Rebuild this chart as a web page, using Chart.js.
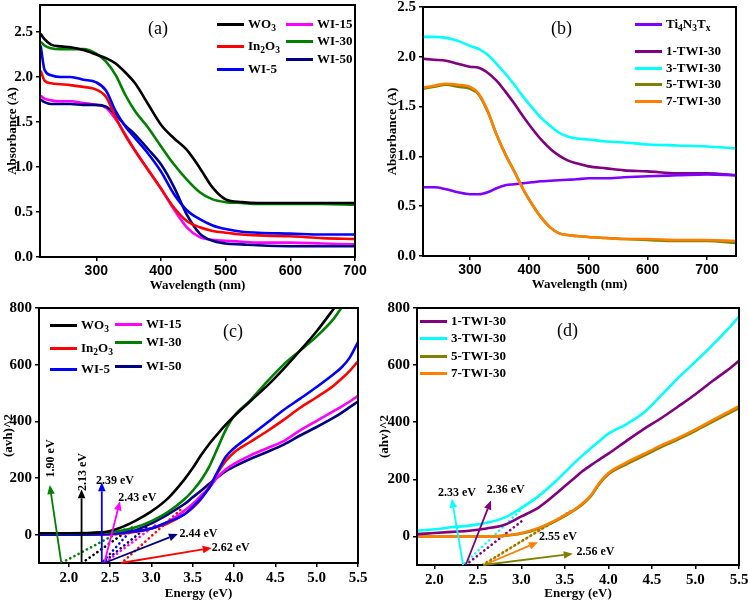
<!DOCTYPE html>
<html><head><meta charset="utf-8">
<script src="https://cdn.jsdelivr.net/npm/chart.js@4"></script>
<style>
body{margin:0;background:#fff;}
#wrap{position:relative;width:748px;height:602px;overflow:hidden;font-family:"Liberation Serif",serif;}
canvas{position:absolute;}
.lg{position:absolute;height:0;}
.lg i{position:absolute;left:0;top:-1.5px;width:27px;height:3px;}
.lg span{position:absolute;left:31px;top:-8.5px;white-space:nowrap;font:bold 13px "Liberation Serif";line-height:16px;color:#000;}
.lg sub{font-size:9.5px;vertical-align:-3px;line-height:0;}
.pl{position:absolute;font:18px "Liberation Serif";line-height:18px;color:#000;}
</style></head>
<body><div id="wrap">
<canvas id="ca" width="374" height="300" style="left:0;top:0"></canvas>
<canvas id="cb" width="374" height="300" style="left:374px;top:0"></canvas>
<canvas id="cc" width="374" height="302" style="left:0;top:300px"></canvas>
<canvas id="cd" width="374" height="302" style="left:374px;top:300px"></canvas>
<div class="pl" style="left:148px;top:19px">(a)</div>
<div class="pl" style="left:551px;top:19px">(b)</div>
<div class="pl" style="left:223px;top:322px">(c)</div>
<div class="pl" style="left:557px;top:321px">(d)</div>
</div>
<script>
// ---------- Panel (a): absorbance vs wavelength ----------
const A_WL    = [214,220,230,245,260,280,300,315,330,345,360,380,400,420,440,460,480,500,525,550,600,650,700];
const A_WO3   = [2.48,2.42,2.36,2.34,2.33,2.30,2.25,2.21,2.15,2.05,1.93,1.70,1.47,1.32,1.19,0.99,0.77,0.64,0.61,0.60,0.60,0.60,0.60];
const A_IN2O3 = [2.07,1.96,1.93,1.92,1.91,1.89,1.86,1.78,1.55,1.35,1.18,0.97,0.76,0.55,0.40,0.33,0.29,0.27,0.25,0.24,0.23,0.21,0.20];
const A_WI5   = [2.35,2.08,2.02,2.00,2.00,1.97,1.94,1.85,1.62,1.45,1.32,1.15,0.95,0.70,0.52,0.42,0.35,0.31,0.28,0.27,0.26,0.25,0.25];
const A_WI15  = [1.79,1.76,1.74,1.73,1.73,1.71,1.69,1.66,1.53,1.36,1.18,0.97,0.76,0.53,0.33,0.22,0.19,0.18,0.17,0.16,0.16,0.15,0.14];
const A_WI30  = [2.39,2.35,2.32,2.31,2.31,2.31,2.26,2.17,2.02,1.80,1.62,1.44,1.23,1.03,0.86,0.72,0.64,0.61,0.60,0.59,0.59,0.59,0.58];
const A_WI50  = [1.75,1.72,1.70,1.70,1.70,1.69,1.69,1.67,1.58,1.46,1.36,1.20,1.03,0.78,0.47,0.26,0.18,0.15,0.14,0.13,0.12,0.12,0.12];
const A_XTICKS = [300,400,500,600,700];
const A_YTICKS = [0,0.5,1.0,1.5,2.0,2.5];

// ---------- Panel (b) ----------
const B_WL   = [221,240,260,280,300,315,330,345,360,375,390,405,420,435,450,465,480,500,530,560,600,650,700,750];
const B_TI   = [0.69,0.69,0.67,0.64,0.62,0.62,0.64,0.68,0.71,0.72,0.73,0.74,0.75,0.755,0.76,0.765,0.77,0.78,0.78,0.79,0.80,0.81,0.82,0.81];
const B_1TWI = [1.98,1.97,1.96,1.93,1.90,1.89,1.84,1.76,1.65,1.53,1.40,1.28,1.17,1.08,1.01,0.96,0.93,0.90,0.88,0.86,0.85,0.83,0.83,0.81];
const B_3TWI = [2.20,2.20,2.19,2.16,2.11,2.08,2.02,1.93,1.83,1.72,1.60,1.49,1.39,1.31,1.24,1.20,1.18,1.17,1.15,1.14,1.12,1.11,1.10,1.08];
const B_5TWI = [1.68,1.70,1.72,1.70,1.68,1.62,1.45,1.22,1.02,0.85,0.67,0.52,0.39,0.29,0.23,0.21,0.20,0.19,0.18,0.17,0.16,0.15,0.15,0.13];
const B_7TWI = [1.69,1.71,1.73,1.72,1.70,1.63,1.46,1.22,1.02,0.85,0.67,0.52,0.39,0.29,0.23,0.21,0.20,0.19,0.18,0.17,0.17,0.16,0.16,0.15];
const B_XTICKS = [300,400,500,600,700];
const B_YTICKS = [0,0.5,1.0,1.5,2.0,2.5];

// ---------- Panel (c): Tauc plots ----------
const C_E     = [1.64,2.0,2.4,2.6,2.8,3.0,3.2,3.4,3.5,3.6,3.7,3.8,3.9,4.0,4.2,4.4,4.6,4.8,5.0,5.2,5.3,5.4,5.5];
const C_WO3   = [5,5,8,22,48,82,128,195,235,280,320,355,388,418,472,525,585,650,718,795,835,870,905];
const C_IN2O3 = [0,0,1,3,10,22,40,72,95,125,170,218,260,290,328,365,405,448,485,525,550,578,612];
const C_WI5   = [0,0,2,5,12,22,45,72,98,128,165,222,275,305,350,395,440,480,521,565,590,625,680];
const C_WI15  = [0,0,1,3,10,22,45,85,108,138,165,203,230,250,280,305,330,368,402,435,452,470,490];
const C_WI30  = [5,5,7,12,25,48,80,125,155,192,240,305,370,418,475,540,600,650,700,760,800,830,860];
const C_WI50  = [0,0,1,5,15,40,72,108,132,155,180,202,224,240,268,292,318,350,380,412,430,450,470];
const C_XTICKS = [2.0,2.5,3.0,3.5,4.0,4.5,5.0,5.5];
const C_YTICKS = [0,200,400,600,800];
// tangent (dotted) lines: [E, value] start and end
const C_FIT_START = [[2.16,-100],[2.64,-100],[2.40,-100],[2.43,-100],[1.91,-100],[2.41,-100]];
const C_FIT_END   = [[2.78,28],[3.38,95],[2.80,30],[3.08,40],[2.72,25],[2.96,30]];
// band-gap arrows and labels
const C_GAP_TEXT  = ['1.90 eV','2.13 eV','2.39 eV','2.43 eV','2.44 eV','2.62 eV'];
const C_ARR_TAIL  = [[1.91,-100],[2.155,-100],[2.40,-100],[2.43,-100],[2.43,-100],[2.63,-100]];
const C_ARR_HEAD  = [[1.77,175],[2.155,160],[2.40,185],[2.62,118],[3.32,2],[3.73,-47]];
const C_LABEL_AT  = [[1.79,269],[2.17,221],[2.56,191],[2.83,129],[3.57,2],[3.96,-47]];
const C_LABEL_ROT = [true,true,false,false,false,false];

// ---------- Panel (d) ----------
const D_E    = [1.8,2.0,2.2,2.4,2.6,2.8,3.0,3.2,3.4,3.5,3.6,3.7,3.8,3.9,4.0,4.2,4.4,4.6,4.8,5.0,5.2,5.4,5.5];
const D_1TWI = [8,12,16,20,28,40,70,102,150,177,202,228,250,270,290,333,375,413,455,498,545,590,615];
const D_3TWI = [20,25,32,38,48,65,100,142,195,225,255,283,310,335,360,392,432,492,555,612,672,735,770];
const D_5TWI = [0,0,0,0,0,2,10,28,55,72,90,112,142,186,218,252,282,312,340,370,402,434,450];
const D_7TWI = [0,0,0,0,0,3,12,30,58,75,92,115,145,190,222,258,288,318,345,375,408,440,456];
const D_XTICKS = [2.0,2.5,3.0,3.5,4.0,4.5,5.0,5.5];
const D_YTICKS = [0,200,400,600,800];
const D_FIT_START = [[2.36,-100],[2.33,-100],[2.55,-100],[2.56,-100]];
const D_FIT_END   = [[3.03,60],[3.0,95],[3.55,85],[3.6,95]];
const D_GAP_TEXT  = ['2.33 eV','2.36 eV','2.55 eV','2.56 eV'];
const D_ARR_TAIL  = [[2.33,-100],[2.36,-100],[2.57,-100],[2.56,-100]];
const D_ARR_HEAD  = [[2.20,132],[2.65,126],[3.19,-20],[3.59,-61]];
const D_LABEL_AT  = [[2.26,151],[2.82,162],[3.42,-2],[3.85,-55]];

// ---------- styling ----------
const COL = {wo3:'#000000', in2o3:'#ff0000', wi5:'#0000ff', wi15:'#ff00ff', wi30:'#008000', wi50:'#000080',
             ti:'#8000ff', t1:'#800080', t3:'#00ffff', t5:'#808000', t7:'#ff8000'};
const SERIF = '"Liberation Serif", serif';
const SANS = '"Liberation Sans", Arial, sans-serif';

function pts(xs, ys){ return xs.map((x,i)=>({x:x, y:ys[i]})); }
function curve(label, xs, ys, color){
  return {label:label, data:pts(xs,ys), borderColor:color, backgroundColor:color, borderWidth:2.6,
          pointRadius:0, fill:false, cubicInterpolationMode:'monotone'};
}
function dotted(p0, p1, color, off){
  return {label:'', data:[{x:p0[0],y:p0[1]},{x:p1[0],y:p1[1]}], borderColor:color, borderWidth:2.6,
          borderDash:[0.1,4.6], borderDashOffset:off||0, borderCapStyle:'round', pointRadius:0, tension:0, fill:false};
}
function drawArrow(ctx,x1,y1,x2,y2,color){
  const ang=Math.atan2(y2-y1,x2-x1), L=9, W=3.8;
  const bx=x2-L*Math.cos(ang), by=y2-L*Math.sin(ang);
  ctx.save(); ctx.strokeStyle=color; ctx.fillStyle=color; ctx.lineWidth=1.8;
  ctx.beginPath(); ctx.moveTo(x1,y1); ctx.lineTo(bx,by); ctx.stroke();
  ctx.beginPath(); ctx.moveTo(x2,y2);
  ctx.lineTo(bx+W*Math.sin(ang), by-W*Math.cos(ang));
  ctx.lineTo(bx-W*Math.sin(ang), by+W*Math.cos(ang));
  ctx.closePath(); ctx.fill(); ctx.restore();
}
const framePlugin = {
  id:'frame',
  afterDatasetsDraw(chart){
    const {ctx, chartArea:a} = chart;
    ctx.save(); ctx.strokeStyle='#000'; ctx.lineWidth=2;
    ctx.strokeRect(a.left, a.top, a.right-a.left, a.bottom-a.top);
    ctx.restore();
  }
};
function annotate(arrows){
  return {
    id:'arrows',
    afterDatasetsDraw(chart){
      const xs=chart.scales.x, ys=chart.scales.y, ctx=chart.ctx;
      arrows.forEach(ar=>{
        drawArrow(ctx, xs.getPixelForValue(ar.tail[0]), ys.getPixelForValue(ar.tail[1]),
                       xs.getPixelForValue(ar.head[0]), ys.getPixelForValue(ar.head[1]), ar.color);
      });
      arrows.forEach(ar=>{
        const lx=xs.getPixelForValue(ar.at[0]), ly=ys.getPixelForValue(ar.at[1]);
        ctx.save(); ctx.translate(lx,ly); if(ar.rot) ctx.rotate(-Math.PI/2);
        ctx.font='bold 12px '+SERIF; ctx.fillStyle='#000'; ctx.textAlign='center'; ctx.textBaseline='middle';
        ctx.fillText(ar.text,0,0); ctx.restore();
      });
    }
  };
}
function makeChart(id, cfg){
  const c=document.getElementById(id);
  const W=c.width, H=c.height, a=cfg.area;
  return new Chart(c,{
    type:'line',
    data:{datasets:cfg.datasets},
    options:{
      responsive:false, animation:false, devicePixelRatio:1,
      layout:{padding:{left:0, top:a.top, right:W-a.right, bottom:0}},
      plugins:{legend:{display:false}, tooltip:{enabled:false}},
      scales:{
        x:{type:'linear', min:cfg.xmin, max:cfg.xmax,
           afterBuildTicks(s){ s.ticks = cfg.xTicks.map(v=>({value:v})); },
           afterFit(s){ s.height = H - a.bottom; s.paddingLeft=0; s.paddingRight=0; },
           ticks:{color:'#000', padding:2, maxRotation:0, autoSkip:false, font:{family:cfg.xFont, weight:'bold', size:cfg.xFontSize},
                  callback:cfg.xFmt},
           grid:{drawOnChartArea:false, drawTicks:true, tickLength:4, color:'#000', lineWidth:1.5},
           border:{display:true, color:'#000', width:2},
           title:{display:true, text:cfg.xTitle, color:'#000', font:{family:SERIF, weight:'bold', size:13},
                  padding:{top:0, bottom:cfg.xTitlePad}}},
        y:{type:'linear', min:cfg.ymin, max:cfg.ymax,
           afterBuildTicks(s){ s.ticks = cfg.yTicks.map(v=>({value:v})); },
           afterFit(s){ s.width = a.left; s.paddingTop=0; s.paddingBottom=0; },
           ticks:{color:'#000', padding:3, autoSkip:false, font:{family:SERIF, weight:'bold', size:15},
                  callback:cfg.yFmt},
           grid:{drawOnChartArea:false, drawTicks:true, tickLength:4, color:'#000', lineWidth:1.5},
           border:{display:true, color:'#000', width:2},
           title:{display:true, text:cfg.yTitle, color:'#000', font:{family:SERIF, weight:'bold', size:13},
                  padding:{top:cfg.yTitlePad, bottom:0}}}
      }
    },
    plugins:[framePlugin, annotate(cfg.arrows||[])]
  });
}
const f1 = v => Number(v).toFixed(1);
const f0 = v => String(Math.round(v));

// Chart.js draws dataset 0 on top, so topmost series come first.
// (a)
makeChart('ca',{
  area:{left:40,right:355,top:5,bottom:257}, xmin:213, xmax:700, ymin:0, ymax:2.8,
  xTicks:A_XTICKS, yTicks:A_YTICKS, xFmt:f0, yFmt:f1, xFont:SANS, xFontSize:14,
  xTitle:'Wavelength (nm)', yTitle:'Absorbance (A)', xTitlePad:7, yTitlePad:5,
  datasets:[curve('WO3',A_WL,A_WO3,COL.wo3), curve('WI-30',A_WL,A_WI30,COL.wi30),
            curve('WI-5',A_WL,A_WI5,COL.wi5), curve('In2O3',A_WL,A_IN2O3,COL.in2o3),
            curve('WI-50',A_WL,A_WI50,COL.wi50), curve('WI-15',A_WL,A_WI15,COL.wi15)]
});
// (b)
makeChart('cb',{
  area:{left:49,right:362,top:7,bottom:256}, xmin:221, xmax:749, ymin:0, ymax:2.5,
  xTicks:B_XTICKS, yTicks:B_YTICKS, xFmt:f0, yFmt:f1, xFont:SANS, xFontSize:14,
  xTitle:'Wavelength (nm)', yTitle:'Absorbance (A)', xTitlePad:8, yTitlePad:11,
  datasets:[curve('7-TWI-30',B_WL,B_7TWI,COL.t7), curve('5-TWI-30',B_WL,B_5TWI,COL.t5),
            curve('Ti4N3Tx',B_WL,B_TI,COL.ti), curve('1-TWI-30',B_WL,B_1TWI,COL.t1),
            curve('3-TWI-30',B_WL,B_3TWI,COL.t3)]
});
// (c)
const C_COLS = [COL.wo3, COL.in2o3, COL.wi5, COL.wi15, COL.wi30, COL.wi50];
const C_ARR_COLS = [COL.wi30, COL.wo3, COL.wi5, COL.wi15, COL.wi50, COL.in2o3];
makeChart('cc',{
  area:{left:39,right:358,top:8,bottom:263}, xmin:1.64, xmax:5.5, ymin:-100, ymax:800,
  xTicks:C_XTICKS, yTicks:C_YTICKS, xFmt:f1, yFmt:f0, xFont:SERIF, xFontSize:15,
  xTitle:'Energy (eV)', yTitle:'(avh)^2', xTitlePad:1, yTitlePad:1,
  datasets:[
    curve('WO3',C_E,C_WO3,COL.wo3), curve('WI-30',C_E,C_WI30,COL.wi30),
    curve('WI-5',C_E,C_WI5,COL.wi5), curve('In2O3',C_E,C_IN2O3,COL.in2o3),
    curve('WI-15',C_E,C_WI15,COL.wi15), curve('WI-50',C_E,C_WI50,COL.wi50),
    ...C_FIT_START.map((p,i)=>dotted(p, C_FIT_END[i], C_COLS[i], i))],
  arrows:C_GAP_TEXT.map((t,i)=>({text:t, tail:C_ARR_TAIL[i], head:C_ARR_HEAD[i], at:C_LABEL_AT[i], rot:C_LABEL_ROT[i], color:C_ARR_COLS[i]}))
});
// (d)
const D_COLS = [COL.t1, COL.t3, COL.t5, COL.t7];
const D_ARR_COLS = [COL.t3, COL.t1, COL.t7, COL.t5];
makeChart('cd',{
  area:{left:43,right:365,top:8,bottom:265}, xmin:1.8, xmax:5.5, ymin:-100, ymax:800,
  xTicks:D_XTICKS, yTicks:D_YTICKS, xFmt:f1, yFmt:f0, xFont:SERIF, xFontSize:15,
  xTitle:'Energy (eV)', yTitle:'(ahv)^2', xTitlePad:1, yTitlePad:3,
  datasets:[
    curve('3-TWI-30',D_E,D_3TWI,COL.t3), curve('1-TWI-30',D_E,D_1TWI,COL.t1),
    curve('7-TWI-30',D_E,D_7TWI,COL.t7), curve('5-TWI-30',D_E,D_5TWI,COL.t5),
    ...D_FIT_START.map((p,i)=>dotted(p, D_FIT_END[i], D_COLS[i], i*2))],
  arrows:D_GAP_TEXT.map((t,i)=>({text:t, tail:D_ARR_TAIL[i], head:D_ARR_HEAD[i], at:D_LABEL_AT[i], rot:false, color:D_ARR_COLS[i]}))
});

// ---------- HTML legends ----------
const LEGENDS = [
  {x:217, items:[['WO<sub>3</sub>',COL.wo3,24],['In<sub>2</sub>O<sub>3</sub>',COL.in2o3,46.7],['WI-5',COL.wi5,69.3]]},
  {x:286, items:[['WI-15',COL.wi15,24],['WI-30',COL.wi30,41.7],['WI-50',COL.wi50,59.3]]},
  {x:635, items:[['Ti<sub>4</sub>N<sub>3</sub>T<sub>x</sub>',COL.ti,24],['1-TWI-30',COL.t1,51],['3-TWI-30',COL.t3,68.3],['5-TWI-30',COL.t5,84.3],['7-TWI-30',COL.t7,101.7]]},
  {x:50, items:[['WO<sub>3</sub>',COL.wo3,325],['In<sub>2</sub>O<sub>3</sub>',COL.in2o3,348.3],['WI-5',COL.wi5,369.3]]},
  {x:115, items:[['WI-15',COL.wi15,324],['WI-30',COL.wi30,342.7],['WI-50',COL.wi50,366.7]]},
  {x:420, items:[['1-TWI-30',COL.t1,321.7],['3-TWI-30',COL.t3,338.3],['5-TWI-30',COL.t5,356],['7-TWI-30',COL.t7,373.3]]}
];
const wrap=document.getElementById('wrap');
LEGENDS.forEach(g=>g.items.forEach(([txt,col,y])=>{
  const d=document.createElement('div'); d.className='lg';
  d.style.left=g.x+'px'; d.style.top=y+'px';
  d.innerHTML='<i style="background:'+col+'"></i><span>'+txt+'</span>';
  wrap.appendChild(d);
}));
</script>
</body></html>
